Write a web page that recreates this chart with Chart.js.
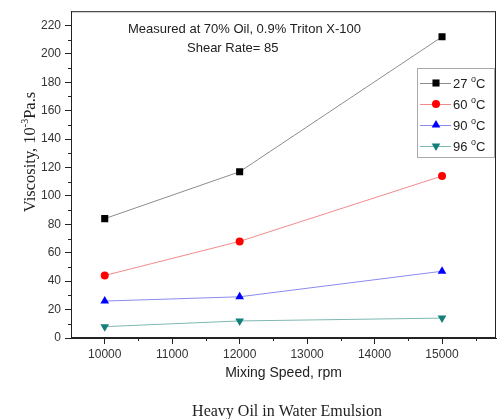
<!DOCTYPE html>
<html>
<head>
<meta charset="utf-8">
<script src="https://cdn.jsdelivr.net/npm/chart.js@4.4.0/dist/chart.umd.min.js"></script>
<style>
  html, body { margin: 0; padding: 0; background: #fff; }
  #wrap { width: 501px; height: 419px; }
</style>
</head>
<body>
<div id="wrap"><canvas id="visc" width="501" height="419"></canvas></div>
<script>
// mixing speed (rpm) and viscosity (10^-3 Pa.s) per temperature
const speeds = [10000, 12000, 15000];
const temps = ['27', '60', '90', '96'];
const visc27 = [84, 117, 212];
const visc60 = [44, 68, 114];
const visc90 = [26, 29, 47];
const visc96 = [8, 12, 14];

const xTicks = [10000, 11000, 12000, 13000, 14000, 15000];
const xMinor = [10500, 11500, 12500, 13500, 14500, 15500];
const yTicks = [0, 20, 40, 60, 80, 100, 120, 140, 160, 180, 200, 220];
const yMinor = [10, 30, 50, 70, 90, 110, 130, 150, 170, 190, 210];

const styles = [
  { line: '#8c8c8c', point: '#000000', shape: 'rect', radius: 5, rot: 0 },
  { line: '#f28a8a', point: '#ff0000', shape: 'circle', radius: 4, rot: 0 },
  { line: '#8a8af2', point: '#0000ff', shape: 'triangle', radius: 5, rot: 0 },
  { line: '#7fb8b2', point: '#127f78', shape: 'triangle', radius: 5, rot: 180 },
];
const series = [visc27, visc60, visc90, visc96];

const datasets = series.map((vals, i) => ({
  label: temps[i],
  data: vals.map((v, j) => ({ x: speeds[j], y: v })),
  borderColor: styles[i].line,
  borderWidth: 1,
  backgroundColor: styles[i].point,
  pointBackgroundColor: styles[i].point,
  pointBorderColor: styles[i].point,
  pointBorderWidth: 0,
  pointStyle: styles[i].shape,
  pointRadius: styles[i].radius,
  pointRotation: styles[i].rot,
  tension: 0,
}));

const SANS = '"Liberation Sans", Arial, sans-serif';
const SERIF = '"Liberation Serif", "Times New Roman", serif';

// text with a small raised "o" for the degree sign
function drawDegLabel(ctx, x, y, num) {
  ctx.textAlign = 'left';
  ctx.textBaseline = 'alphabetic';
  ctx.font = '13px ' + SANS;
  ctx.fillText(num + ' ', x, y);
  let w = ctx.measureText(num + ' ').width;
  ctx.font = '9px ' + SANS;
  ctx.fillText('o', x + w, y - 6);
  w += ctx.measureText('o').width;
  ctx.font = '13px ' + SANS;
  ctx.fillText('C', x + w, y);
}

const extras = {
  id: 'extras',
  beforeDatasetsDraw(chart) {
    const { ctx, chartArea: a, scales: { x, y } } = chart;
    ctx.save();
    ctx.strokeStyle = '#222';
    ctx.lineWidth = 1;
    ctx.strokeRect(a.left + 0.5, a.top + 0.5, a.right - a.left - 1, a.bottom - a.top - 1);
    // minor ticks
    ctx.beginPath();
    xMinor.forEach(v => {
      const px = Math.round(x.getPixelForValue(v)) + 0.5;
      ctx.moveTo(px, a.bottom);
      ctx.lineTo(px, a.bottom + 3);
    });
    yMinor.forEach(v => {
      const py = Math.round(y.getPixelForValue(v)) + 0.5;
      ctx.moveTo(a.left, py);
      ctx.lineTo(a.left - 3, py);
    });
    ctx.stroke();
    ctx.restore();
  },
  afterDraw(chart) {
    const { ctx } = chart;
    ctx.save();
    ctx.fillStyle = '#222';

    // measurement note
    ctx.font = '13px ' + SANS;
    ctx.textBaseline = 'alphabetic';
    ctx.textAlign = 'left';
    ctx.fillText('Measured at 70% Oil, 0.9% Triton X-100', 128, 33);
    ctx.fillText('Shear Rate= 85', 187, 52);

    // legend
    ctx.strokeStyle = '#aaa';
    ctx.lineWidth = 1;
    ctx.strokeRect(417.5, 68.5, 77, 89);
    const rows = [83, 104, 125, 146];
    chart.data.datasets.forEach((ds, i) => {
      const ly = rows[i];
      ctx.strokeStyle = ds.borderColor;
      ctx.beginPath();
      ctx.moveTo(420, ly + 0.5);
      ctx.lineTo(451, ly + 0.5);
      ctx.stroke();
      ctx.fillStyle = ds.pointBackgroundColor;
      Chart.helpers.drawPoint(ctx, {
        pointStyle: ds.pointStyle, rotation: ds.pointRotation,
        radius: ds.pointRadius, borderWidth: 0,
      }, 436, ly);
      ctx.fillStyle = '#222';
      drawDegLabel(ctx, 453, ly + 5, ds.label);
    });

    // y axis title with superscript exponent
    ctx.save();
    ctx.translate(34.5, 152);
    ctx.rotate(-Math.PI / 2);
    const big = '16.5px ' + SERIF, small = '10px ' + SERIF;
    ctx.font = big;
    const w1 = ctx.measureText('Viscosity, 10').width;
    const w3 = ctx.measureText('Pa.s').width;
    ctx.font = small;
    const w2 = ctx.measureText('-3').width;
    let sx = -(w1 + w2 + w3) / 2;
    ctx.font = big;
    ctx.fillText('Viscosity, 10', sx, 0);
    ctx.font = small;
    ctx.fillText('-3', sx + w1, -7);
    ctx.font = big;
    ctx.fillText('Pa.s', sx + w1 + w2, 0);
    ctx.restore();

    // caption
    ctx.font = '16px ' + SERIF;
    ctx.textAlign = 'center';
    ctx.fillText('Heavy Oil in Water Emulsion', 287, 416);
    ctx.restore();
  }
};

new Chart(document.getElementById('visc'), {
  type: 'line',
  data: { datasets },
  options: {
    responsive: false,
    animation: false,
    devicePixelRatio: 1,
    layout: { padding: { top: 10, right: 3, left: 0, bottom: 0 } },
    plugins: { legend: { display: false }, tooltip: { enabled: false } },
    scales: {
      x: {
        type: 'linear',
        min: 9500,
        max: 15800,
        afterBuildTicks: s => { s.ticks = xTicks.map(v => ({ value: v })); },
        afterFit: s => { s.height = 81; },
        grid: { drawOnChartArea: false, drawTicks: true, tickLength: 6, tickColor: '#222' },
        border: { color: '#222' },
        ticks: { color: '#333', font: { family: SANS, size: 12 }, padding: 3, maxRotation: 0, autoSkip: false,
                 callback: v => String(v) },
        title: { display: true, text: 'Mixing Speed, rpm', color: '#222', font: { family: SANS, size: 14 }, padding: { top: 0, bottom: 37 } },
      },
      y: {
        min: 0,
        max: 230,
        afterBuildTicks: s => { s.ticks = yTicks.map(v => ({ value: v })); },
        afterFit: s => { s.width = 71; },
        grid: { drawOnChartArea: false, drawTicks: true, tickLength: 6, tickColor: '#222' },
        border: { color: '#222' },
        ticks: { color: '#333', font: { family: SANS, size: 12 }, padding: 4, callback: v => String(v) },
      },
    },
  },
  plugins: [extras],
});
</script>
</body>
</html>
